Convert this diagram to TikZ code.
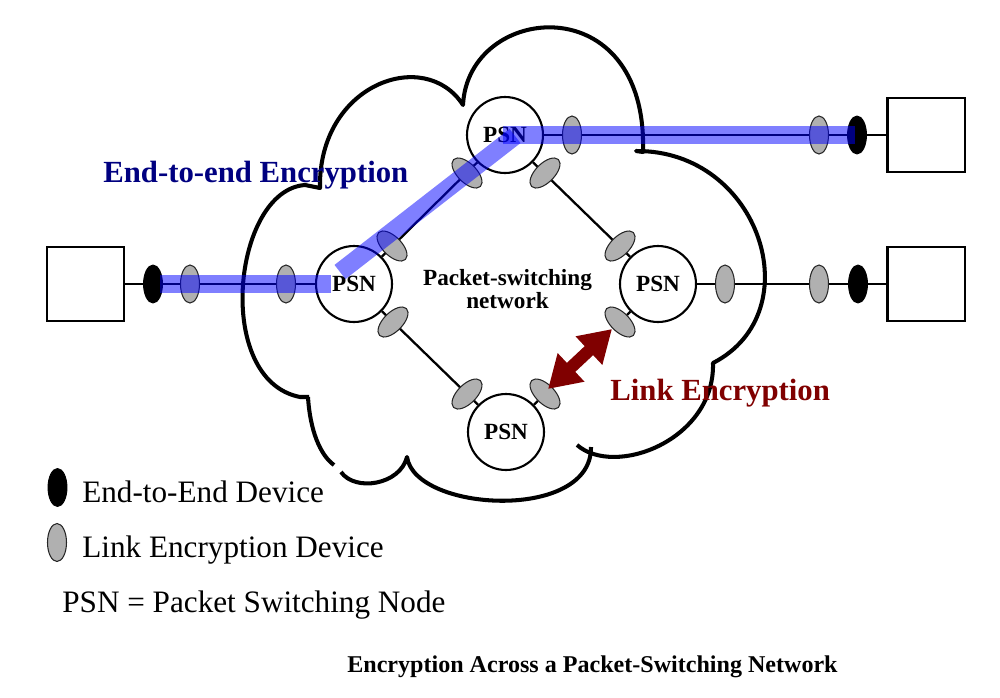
\documentclass[tikz,border=0pt]{standalone}
\usepackage{fontspec}
\setmainfont{Liberation Serif}
\usetikzlibrary{shapes.geometric,arrows.meta}
\definecolor{navyT}{RGB}{0,0,128}
\definecolor{maroonT}{RGB}{128,0,0}
\definecolor{devgrey}{RGB}{176,176,176}
\begin{document}
\begin{tikzpicture}[x=0.02cm,y=-0.02cm,
  cloudline/.style={line width=2.3pt, line join=round},
  psn/.style={circle, draw, line width=1.2pt, fill=white, minimum size=1.52cm, inner sep=0pt,
    font=\fontsize{13.2pt}{13pt}\selectfont\bfseries},
  hostbox/.style={rectangle, draw, line width=1.4pt, fill=white, minimum width=1.55cm, minimum height=1.49cm, inner sep=0pt},
  e2edev/.style={ellipse, fill=black, draw=black, line width=0.5pt, minimum width=0.38cm, minimum height=0.76cm, inner sep=0pt},
  linkdev/.style={ellipse, fill=devgrey, draw=black!85, line width=0.6pt, minimum width=0.38cm, minimum height=0.76cm, inner sep=0pt},
  mainline/.style={line width=1.5pt},
  linkline/.style={line width=1.3pt},
  band/.style={line width=10.2pt, draw=blue, draw opacity=0.5, line cap=butt},
  redarrow/.style={draw=maroonT, fill=maroonT, line width=7pt,
    {Triangle[length=18pt,width=21pt]}-{Triangle[length=18pt,width=21pt]}},
  bigbold/.style={anchor=base west, inner sep=0pt, font=\fontsize{17.5pt}{21pt}\selectfont\bfseries},
  legendtext/.style={anchor=base west, inner sep=0pt, font=\fontsize{17.75pt}{21pt}\selectfont},
]
\useasboundingbox (0,0) rectangle (1000,697);

% cloud outline
\draw[cloudline] (309,397) -- (300,397)
   .. controls (213,380) and (233,190) .. (305,185)
   -- (320,188)
   .. controls (318,84) and (425,46) .. (463,105)
   .. controls (468,3) and (648,-15) .. (643,152)
   -- (636,151)
   .. controls (760,150) and (812,312) .. (713,363)
   .. controls (715,440) and (615,478) .. (577,445);
\draw[cloudline] (591,447) .. controls (592,522) and (415,512) .. (407,457)
   .. controls (400,485) and (355,492) .. (341,472);
\draw[cloudline] (308,397) .. controls (310,430) and (320,455) .. (334,465);

% packet switching nodes and hosts
\node[psn] (psnT) at (505,135) {PSN};
\node[psn] (psnL) at (354,284) {PSN};
\node[psn] (psnR) at (658,284) {PSN};
\node[psn] (psnB) at (506,432) {PSN};
\node[hostbox] (boxL) at (85.5,284) {};
\node[hostbox] (boxT) at (926,135) {};
\node[hostbox] (boxR) at (926,284) {};

% connectors
\draw[mainline] (boxL) -- (psnL);
\draw[mainline] (psnT) -- (boxT);
\draw[mainline] (psnR) -- (boxR);
\draw[linkline] (psnL) -- (psnT);
\draw[linkline] (psnT) -- (psnR);
\draw[linkline] (psnL) -- (psnB);

% devices on host lines
\node[e2edev]  (eL)  at (153,284) {};
\node[linkdev] (gL1) at (190,284) {};
\node[linkdev] (gL2) at (286,284) {};
\node[linkdev] (gT1) at (572,135) {};
\node[linkdev] (gT2) at (819,135) {};
\node[e2edev]  (eT)  at (857,135) {};
\node[linkdev] (gR1) at (725,284) {};
\node[linkdev] (gR2) at (819,284) {};
\node[e2edev]  (eR)  at (858,284) {};

% devices on internal links
\node[linkdev, rotate=45]  (dTL1) at (392,246) {};
\node[linkdev, rotate=45]  (dTL2) at (467,173) {};
\node[linkdev, rotate=-45] (dTR1) at (545,173) {};
\node[linkdev, rotate=-45] (dTR2) at (620,246) {};
\node[linkdev, rotate=-45] (dLB1) at (393,322) {};
\node[linkdev, rotate=-45] (dLB2) at (467,394) {};
\node[linkdev, rotate=45]  (dRB1) at (620,322) {};
\node[linkdev, rotate=45]  (dRB2) at (545,394) {};
\draw[linkline] (psnR) -- (dRB1);
\draw[linkline] (psnB) -- (dRB2);

% labels
\node[bigbold, text=navyT] (e2eLabel) at (103,182) {End-to-end Encryption};
\node[bigbold, text=maroonT] (linkLabel) at (610,400) {Link Encryption};
\node[align=center, inner sep=0pt, font=\fontsize{13.2pt}{13pt}\selectfont\bfseries] (netLabel) at (507.5,289)
  {Packet-switching\\network};

% legend
\node[e2edev]  (legE) at (57.5,487.5) {};
\node[linkdev] (legL) at (57,542.5) {};
\node[legendtext] (legEt) at (82,502) {End-to-End Device};
\node[legendtext] (legLt) at (82,557) {Link Encryption Device};
\node[legendtext] (legP) at (62,612) {PSN = Packet Switching Node};

% caption
\node[anchor=base west, inner sep=0pt, font=\fontsize{13.7pt}{16pt}\selectfont\bfseries] (caption) at (347,672)
  {Encryption Across a Packet-Switching Network};

% end-to-end encryption band
\coordinate (bandL1) at (160,284);
\coordinate (bandL2) at (331,284);
\coordinate (bandD1) at (340,272);
\coordinate (bandD2) at (515,136);
\coordinate (bandT1) at (503,135);
\coordinate (bandT2) at (855,135);
\draw[band] (bandL1) -- (bandL2);
\draw[band] (bandD1) -- (bandD2);
\draw[band] (bandT1) -- (bandT2);

% link encryption arrow
\coordinate (arrA) at (548,389);
\coordinate (arrB) at (612,329);
\draw[redarrow] (arrA) -- (arrB);
\end{tikzpicture}
\end{document}
